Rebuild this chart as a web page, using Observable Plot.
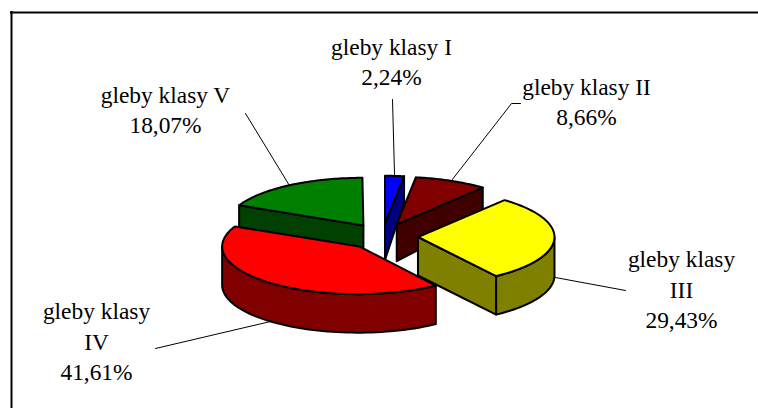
<!DOCTYPE html>
<html><head><meta charset="utf-8">
<style>html,body{margin:0;padding:0;background:#fff}svg{display:block}</style>
<script src="https://cdn.jsdelivr.net/npm/d3@7"></script>
<script src="https://cdn.jsdelivr.net/npm/@observablehq/plot@0.6"></script>
</head><body><div id="chart"></div>
<script>
// data
const names = ["gleby klasy I","gleby klasy II","gleby klasy\nIII","gleby klasy\nIV","gleby klasy V"];
const shares = [2.24,8.66,29.43,41.61,18.07];
const topColors = ["#0000ff","#800000","#ffff00","#ff0000","#008000"];
const wallColors = ["#000080","#400000","#808000","#800000","#004000"];

// layout of the 3D exploded pie
const W = 758, H = 408;
const C = {x:382,y:236}, R = 136, squash = 0.35, explode = 35.5, explodeSquash = 0.37;
const rimShift = [0,0,0.5,-1.5,-1];
const depthAt = y => Math.min(38.5, 26 + (y-176)*0.224);
const labelPos = [[391,59.5],[586,99.5],[681,287.5],[96,339.5],[165,107.5]];
const leaderEnd = [[[392,99]],[[511,103],[520,103]],[[625,290]],[[155,348]],[[245,113]]];
const leaderOnWall = [false,false,true,true,false];

const arcs = d3.pie().sort(null).value(d=>d)(shares);
const slices = arcs.map((a,i)=>{
  const m=(a.startAngle+a.endAngle)/2;
  const apex={x:C.x+explode*Math.sin(m),y:C.y-explode*explodeSquash*Math.cos(m)};
  const rim=t=>({x:apex.x+R*Math.sin(t)+rimShift[i],y:apex.y-R*squash*Math.cos(t)});
  return {i,a0:a.startAngle,a1:a.endAngle,m,apex,rim};
});
const down=p=>({x:p.x,y:p.y+depthAt(p.y)});
const arcPts=(s,t0,t1)=>d3.range(0,61).map(j=>s.rim(t0+(t1-t0)*j/60));
const close=p=>[...p,p[0]];
const radialWall=(s,t)=>{const r=s.rim(t);return close([s.apex,r,down(r),down(s.apex)]);};
const curvedWall=(s,t0,t1)=>{const top=arcPts(s,t0,t1);return close([...top,...top.slice().reverse().map(down)]);};
const topFace=s=>close([s.apex,...arcPts(s,s.a0,s.a1)]);

const face=(pts,fill)=>Plot.line(pts,{x:"x",y:"y",fill,stroke:"#000",strokeWidth:2,strokeLinejoin:"round"});
const [blue,brown,yellow,red,green]=slices;
const quarter=Math.PI/2;
const faces=[
  face(radialWall(green,green.a0),wallColors[4]), face(topFace(green),topColors[4]),
  face(radialWall(blue,blue.a1),wallColors[0]), face(topFace(blue),topColors[0]),
  face(radialWall(brown,brown.a1),wallColors[1]), face(topFace(brown),topColors[1]),
  face(radialWall(yellow,yellow.a1),wallColors[2]), face(curvedWall(yellow,quarter,yellow.a1),wallColors[2]), face(topFace(yellow),topColors[2]),
  face(curvedWall(red,red.a0,3*quarter),wallColors[3]), face(topFace(red),topColors[3])
];

const leaders=slices.map(s=>{
  const r=s.rim(s.m), start=leaderOnWall[s.i]?{x:r.x,y:r.y+depthAt(r.y)}:r;
  return [start,...leaderEnd[s.i].map(([x,y])=>({x,y}))];
});
const labels=slices.map(s=>({x:labelPos[s.i][0],y:labelPos[s.i][1],
  text:names[s.i]+"\n"+shares[s.i].toFixed(2).replace(".",",")+"%"}));

const chart=Plot.plot({
  width:W,height:H,margin:0,
  x:{domain:[0,W],range:[0,W],axis:null},
  y:{domain:[0,H],range:[0,H],axis:null},
  style:{background:"#fff"},
  marks:[
    Plot.ruleY([12],{x1:10,x2:W,stroke:"#000",strokeWidth:2}),
    Plot.ruleX([11],{y1:11,y2:H,stroke:"#000",strokeWidth:2}),
    ...leaders.map(l=>Plot.line(l,{x:"x",y:"y",stroke:"#000",strokeWidth:1})),
    ...faces,
    Plot.text(labels,{x:"x",y:"y",text:"text",fontFamily:"Liberation Serif",fontSize:23.4,lineHeight:1.3,fill:"#000",textAnchor:"middle",lineAnchor:"middle"})
  ]
});
document.getElementById("chart").append(chart);
</script></body></html>
